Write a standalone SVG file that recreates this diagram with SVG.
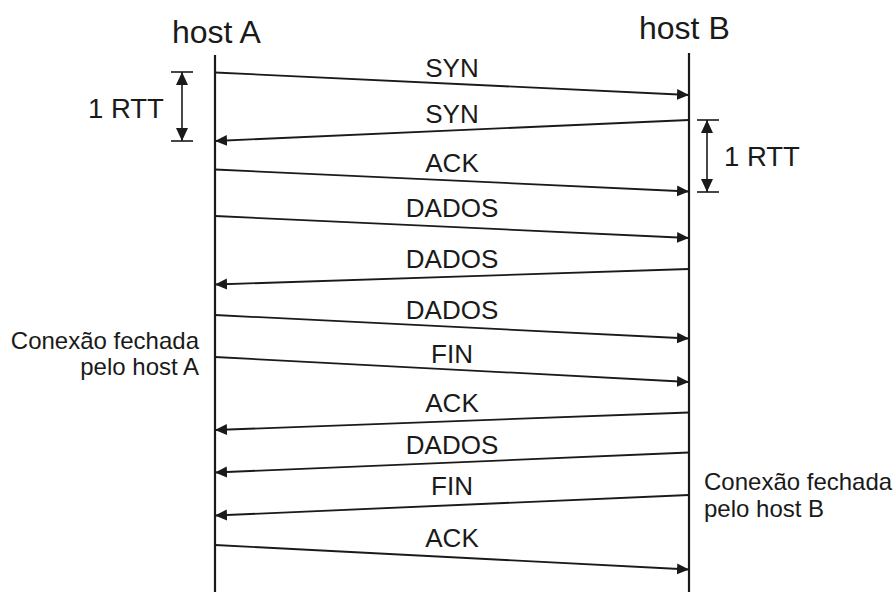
<svg xmlns="http://www.w3.org/2000/svg" width="896" height="592" viewBox="0 0 896 592">
  <style>
    text { font-family: "Liberation Sans", Arial, sans-serif; fill: #1a1a1a; }
    .host { font-size: 32px; }
    .msg { font-size: 26px; text-anchor: middle; }
    .rtt { font-size: 27.5px; }
    .note { font-size: 24px; }
    .life { stroke: #1a1a1a; stroke-width: 2.2; fill: none; }
    .arrow { stroke: #1a1a1a; stroke-width: 1.8; fill: none; marker-end: url(#head); }
    .tick { stroke: #1a1a1a; stroke-width: 1.6; fill: none; }
    .span { stroke: #1a1a1a; stroke-width: 1.6; fill: none; marker-start: url(#rtt); marker-end: url(#rtt); }
  </style>
  <defs>
    <marker id="head" markerUnits="userSpaceOnUse" viewBox="0 0 12 12" refX="12" refY="6" markerWidth="12" markerHeight="12" orient="auto">
      <path d="M0,0.5 L12,6 L0,11.5 Z" fill="#1a1a1a"/>
    </marker>
    <marker id="rtt" markerUnits="userSpaceOnUse" viewBox="0 0 13 13" refX="13" refY="6.5" markerWidth="13" markerHeight="13" orient="auto-start-reverse">
      <path d="M0,0.5 L13,6.5 L0,12.5 Z" fill="#1a1a1a"/>
    </marker>
  </defs>
  <rect width="896" height="592" fill="#ffffff"/>

  <!-- host A -->
  <g id="hostA">
    <text class="host" x="172" y="43">host A</text>
    <line class="life" x1="215" y1="55" x2="215" y2="592"/>
  </g>

  <!-- host B -->
  <g id="hostB">
    <text class="host" x="639" y="39">host B</text>
    <line class="life" x1="689" y1="53" x2="689" y2="592"/>
  </g>

  <!-- round-trip time on host A -->
  <g id="rttA">
    <line class="tick" x1="171" y1="72" x2="193" y2="72"/>
    <line class="tick" x1="171" y1="141" x2="193" y2="141"/>
    <line class="span" x1="182" y1="72" x2="182" y2="141"/>
    <text class="rtt" x="88" y="118">1 RTT</text>
  </g>

  <!-- round-trip time on host B -->
  <g id="rttB">
    <line class="tick" x1="697" y1="120" x2="719" y2="120"/>
    <line class="tick" x1="697" y1="192" x2="719" y2="192"/>
    <line class="span" x1="707" y1="120" x2="707" y2="192"/>
    <text class="rtt" x="724" y="166">1 RTT</text>
  </g>

  <!-- connection close notes -->
  <g id="closeA">
    <text class="note" x="199" y="349" text-anchor="end">Conexão fechada</text>
    <text class="note" x="199" y="375" text-anchor="end">pelo host A</text>
  </g>
  <g id="closeB">
    <text class="note" x="704" y="490">Conexão fechada</text>
    <text class="note" x="704" y="517">pelo host B</text>
  </g>

  <!-- messages -->
  <g id="messages">
    <line class="arrow" x1="215" y1="72.5" x2="689" y2="95"/>
    <text class="msg" x="452" y="76.5">SYN</text>

    <line class="arrow" x1="689" y1="120" x2="215" y2="141"/>
    <text class="msg" x="452" y="122.5">SYN</text>

    <line class="arrow" x1="215" y1="169.5" x2="689" y2="191.5"/>
    <text class="msg" x="452" y="171.5">ACK</text>

    <line class="arrow" x1="215" y1="216" x2="689" y2="238"/>
    <text class="msg" x="452" y="217">DADOS</text>

    <line class="arrow" x1="689" y1="269" x2="215" y2="284.5"/>
    <text class="msg" x="452" y="267.5">DADOS</text>

    <line class="arrow" x1="215" y1="315" x2="689" y2="338.5"/>
    <text class="msg" x="452" y="318.5">DADOS</text>

    <line class="arrow" x1="215" y1="357" x2="689" y2="382"/>
    <text class="msg" x="452" y="362.5">FIN</text>

    <line class="arrow" x1="689" y1="412.5" x2="215" y2="430"/>
    <text class="msg" x="452" y="412">ACK</text>

    <line class="arrow" x1="689" y1="452.5" x2="215" y2="472.5"/>
    <text class="msg" x="452" y="454">DADOS</text>

    <line class="arrow" x1="689" y1="495" x2="215" y2="515.5"/>
    <text class="msg" x="452" y="495">FIN</text>

    <line class="arrow" x1="215" y1="545" x2="689" y2="569.5"/>
    <text class="msg" x="452" y="546.5">ACK</text>
  </g>
</svg>
